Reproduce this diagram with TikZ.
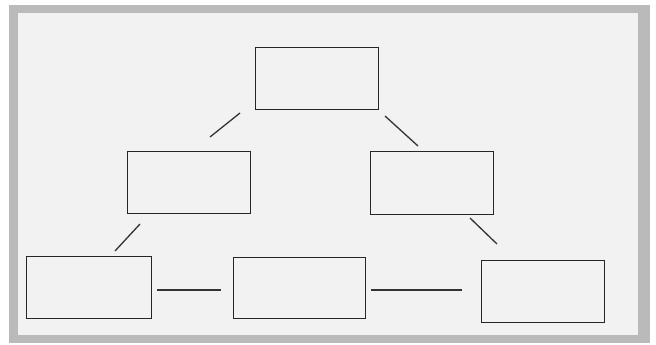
\documentclass[tikz,border=0pt]{standalone}
\begin{document}
\begin{tikzpicture}[x=1pt,y=-1pt,
  box/.style={draw=black!85,line width=1.3pt,inner sep=0pt,anchor=north west},
  conn/.style={draw=black!80,line width=1.3pt}]
\useasboundingbox (0,0) rectangle (656,345);
\fill[white] (0,0) rectangle (656,345);
\fill[black!27] (9,5) rectangle (650,343);
\fill[black!5] (18,13) rectangle (638,335);
\node[box,minimum width=123pt,minimum height=62pt] (top) at (255,47) {};
\node[box,minimum width=123pt,minimum height=62pt] (ml) at (127,151) {};
\node[box,minimum width=123pt,minimum height=63pt] (mr) at (370,151) {};
\node[box,minimum width=125pt,minimum height=62pt] (bl) at (26,256) {};
\node[box,minimum width=132pt,minimum height=61pt] (bm) at (233,257) {};
\node[box,minimum width=123pt,minimum height=62pt] (br) at (481,260) {};
\coordinate (a1) at (240,113); \coordinate (a2) at (210,137);
\coordinate (b1) at (385,116); \coordinate (b2) at (418,146);
\coordinate (c1) at (140,224); \coordinate (c2) at (115,251);
\coordinate (d1) at (470,218); \coordinate (d2) at (497,244);
\coordinate (e1) at (157,290); \coordinate (e2) at (221,290);
\coordinate (f1) at (371,290); \coordinate (f2) at (462,290);
\draw[conn] (a1) -- (a2);
\draw[conn] (b1) -- (b2);
\draw[conn] (c1) -- (c2);
\draw[conn] (d1) -- (d2);
\draw[conn] (e1) -- (e2);
\draw[conn] (f1) -- (f2);
\end{tikzpicture}
\end{document}
